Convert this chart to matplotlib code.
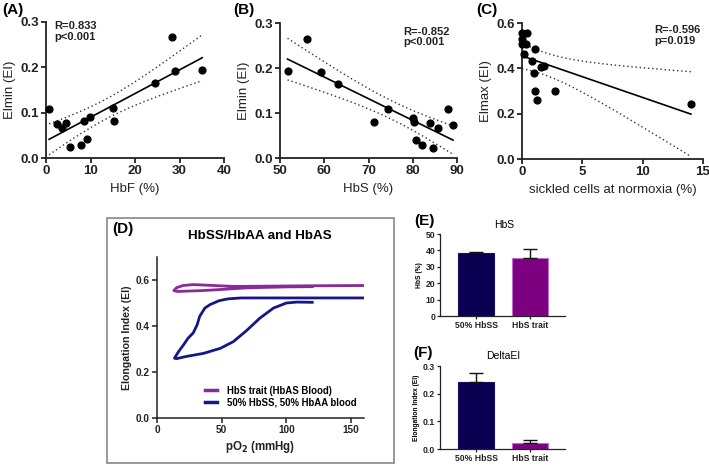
import numpy as np
import matplotlib
matplotlib.use("Agg")
import matplotlib.pyplot as plt
from matplotlib.patches import Rectangle
from matplotlib.lines import Line2D

plt.rcParams['font.family'] = ['Liberation Sans', 'DejaVu Sans']

# ---------------- data ----------------
hbf = [0.7, 2.5, 3.7, 4.5, 5.3, 7.8, 8.5, 9.3, 9.8, 15.1, 15.2, 24.4, 28.4, 28.9, 35.1]
eimin_a = [0.109, 0.076, 0.066, 0.078, 0.024, 0.029, 0.081, 0.042, 0.091, 0.111, 0.081, 0.165, 0.266, 0.192, 0.194]

hbs = [51.7, 56.2, 59.2, 63.2, 71.3, 74.4, 80.1, 80.2, 80.8, 82.0, 83.8, 84.6, 85.8, 88.0, 89.1]
eimin_b = [0.194, 0.265, 0.192, 0.164, 0.080, 0.109, 0.089, 0.079, 0.041, 0.028, 0.077, 0.023, 0.066, 0.108, 0.074]

sickled = [0.0, 0.41, 0.0, 0.03, 0.3, 0.14, 1.1, 0.86, 1.02, 1.08, 1.24, 1.6, 1.8, 2.73, 14.0]
eimax_c = [0.556, 0.556, 0.531, 0.509, 0.509, 0.465, 0.485, 0.432, 0.379, 0.300, 0.259, 0.405, 0.410, 0.300, 0.244]

# Panel D curves (pO2 mmHg, EI)
trait_po2 = [160, 120, 80, 60, 40, 28, 20, 15, 13, 16, 20, 35, 50, 70, 100, 120]
trait_ei = [0.576, 0.575, 0.573, 0.572, 0.577, 0.580, 0.576, 0.566, 0.554, 0.550, 0.551, 0.554, 0.559, 0.566, 0.570, 0.571]
mix_po2 = [160, 100, 65, 55, 48, 41, 37, 35, 33, 31, 28, 24, 20.5, 16.7, 13.5, 15, 23, 36, 49, 59, 69, 79.5, 90, 100, 108, 120]
mix_ei = [0.522, 0.522, 0.522, 0.518, 0.510, 0.493, 0.478, 0.460, 0.442, 0.405, 0.370, 0.347, 0.318, 0.289, 0.260, 0.258, 0.268, 0.281, 0.303, 0.332, 0.379, 0.434, 0.478, 0.500, 0.504, 0.503]

bar_cats = ["50% HbSS", "HbS trait"]
hbs_pct = [38.5, 35.6]
hbs_err = [0.3, 5.3]
delta_ei = [0.241, 0.020]
delta_err = [0.034, 0.013]

NAVY = "#0a0052"
PURPLE = "#7d0080"
LINE_BLUE = "#16168a"
LINE_PURPLE = "#8a2a96"

fig = plt.figure(figsize=(7.09, 4.65), dpi=100)

def style(ax, lw=1.3, ts=9.5):
    for s in ['top', 'right']:
        ax.spines[s].set_visible(False)
    for s in ['left', 'bottom']:
        ax.spines[s].set_linewidth(lw)
        ax.spines[s].set_color('#222222')
    ax.tick_params(direction='out', length=3.5, width=lw, labelsize=ts, colors='#222222', pad=1.5)
    for lab in ax.get_xticklabels() + ax.get_yticklabels():
        lab.set_fontweight('bold')

def regplot(ax, x, y):
    x = np.asarray(x); y = np.asarray(y)
    n = len(x)
    b, a = np.polyfit(x, y, 1)
    xs = np.linspace(x.min(), x.max(), 100)
    yh = a + b * xs
    resid = y - (a + b * x)
    s = np.sqrt(np.sum(resid ** 2) / (n - 2))
    sxx = np.sum((x - x.mean()) ** 2)
    t = 2.160
    ci = t * s * np.sqrt(1.0 / n + (xs - x.mean()) ** 2 / sxx)
    ax.plot(xs, yh, color='black', lw=1.2)
    ax.plot(xs, yh + ci, color='#333333', lw=1.0, ls=(0, (1, 2)))
    ax.plot(xs, yh - ci, color='#333333', lw=1.0, ls=(0, (1, 2)))
    ax.scatter(x, y, s=24, color='black', zorder=3, clip_on=False)

def px(l, t, r, b):
    W, H = 709, 465
    return [l / W, 1 - b / H, (r - l) / W, (b - t) / H]

LBL = 9.5
ANN = 8

# ---------- A ----------
axA = fig.add_axes(px(46, 22, 224, 158))
regplot(axA, hbf, eimin_a)
axA.set_xlim(0, 40); axA.set_ylim(0, 0.3)
axA.set_xticks([0, 10, 20, 30, 40]); axA.set_yticks([0.0, 0.1, 0.2, 0.3])
axA.set_yticklabels(['0.0', '0.1', '0.2', '0.3'])
axA.set_xlabel('HbF (%)', fontsize=LBL, color='#222222', labelpad=4)
axA.set_ylabel('Elmin (EI)', fontsize=LBL, color='#222222', labelpad=3)
axA.text(1.8, 0.302, 'R=0.833\np<0.001', fontsize=ANN, fontweight='semibold', va='top', color='#222222', linespacing=1.1)
style(axA)
fig.text(2 / 709, 1 - 10 / 465, '(A)', fontsize=11, fontweight='bold', va='center')

# ---------- B ----------
axB = fig.add_axes(px(280, 23, 457, 158))
regplot(axB, hbs, eimin_b)
axB.set_xlim(50, 90); axB.set_ylim(0, 0.3)
axB.set_xticks([50, 60, 70, 80, 90]); axB.set_yticks([0.0, 0.1, 0.2, 0.3])
axB.set_yticklabels(['0.0', '0.1', '0.2', '0.3'])
axB.set_xlabel('HbS (%)', fontsize=LBL, color='#222222', labelpad=4)
axB.set_ylabel('Elmin (EI)', fontsize=LBL, color='#222222', labelpad=3)
axB.text(77.8, 0.292, 'R=-0.852\np<0.001', fontsize=ANN, fontweight='semibold', va='top', color='#222222', linespacing=1.1)
style(axB)
fig.text(233 / 709, 1 - 10 / 465, '(B)', fontsize=11, fontweight='bold', va='center')

# ---------- C ----------
axC = fig.add_axes(px(522, 23, 703, 159))
regplot(axC, sickled, eimax_c)
axC.set_xlim(0, 15); axC.set_ylim(0, 0.6)
axC.set_xticks([0, 5, 10, 15]); axC.set_yticks([0.0, 0.2, 0.4, 0.6])
axC.set_yticklabels(['0.0', '0.2', '0.4', '0.6'])
axC.set_xlabel('sickled cells at normoxia (%)', fontsize=LBL, color='#222222', labelpad=4)
axC.set_ylabel('Elmax (EI)', fontsize=LBL, color='#222222', labelpad=3)
axC.text(11.0, 0.59, 'R=-0.596\np=0.019', fontsize=ANN, fontweight='semibold', va='top', color='#222222', linespacing=1.1)
style(axC)
fig.text(476 / 709, 1 - 10 / 465, '(C)', fontsize=11, fontweight='bold', va='center')

# ---------- D ----------
fig.patches.append(Rectangle((107 / 709, 1 - 463 / 465), (394 - 107) / 709, (463 - 218) / 465,
                             transform=fig.transFigure, fill=False, edgecolor='#888888', lw=1.2))
axD = fig.add_axes(px(157, 257, 364, 418))
axD.plot(trait_po2, trait_ei, color=LINE_PURPLE, lw=2.0, solid_joinstyle='round')
axD.plot(mix_po2, mix_ei, color=LINE_BLUE, lw=2.0, solid_joinstyle='round')
axD.set_xlim(0, 160); axD.set_ylim(0, 0.7)
axD.set_xticks([0, 50, 100, 150]); axD.set_yticks([0.0, 0.2, 0.4, 0.6])
axD.set_yticklabels(['0.0', '0.2', '0.4', '0.6'])
axD.set_xlabel('pO$_\\mathbf{2}$ (mmHg)', fontsize=8.3, fontweight='bold', color='#222222', labelpad=3)
axD.set_ylabel('Elongation Index (EI)', fontsize=7.6, fontweight='bold', color='#222222', labelpad=3)
style(axD, lw=1.1, ts=7.2)
handles = [Line2D([], [], color=LINE_PURPLE, lw=2.5), Line2D([], [], color=LINE_BLUE, lw=2.5)]
axD.legend(handles, ['HbS trait (HbAS Blood)', '50% HbSS, 50% HbAA blood'], loc='lower right',
           bbox_to_anchor=(0.99, 0.03), frameon=False, prop={'size': 6.9, 'weight': 'bold'},
           handlelength=1.3, handletextpad=1.0, labelspacing=0.2, borderaxespad=0.2)
fig.text(112 / 709, 1 - 229 / 465, '(D)', fontsize=11, fontweight='bold', va='center')
fig.text(260 / 709, 1 - 236 / 465, 'HbSS/HbAA and HbAS', fontsize=9.6, fontweight='bold', va='center', ha='center')

# ---------- E ----------
axE = fig.add_axes(px(440, 234, 565, 316))
xpos = np.arange(len(bar_cats))
axE.bar(xpos, hbs_pct, width=0.67, color=[NAVY, PURPLE], edgecolor=['#1a1060', '#c070c8'], lw=0.8)
axE.errorbar(xpos, hbs_pct, yerr=[[0, 0], hbs_err], fmt='none', ecolor='#111111', capsize=5, elinewidth=1.0, capthick=1.0)
axE.set_xlim(-0.673, 1.66); axE.set_ylim(0, 50)
axE.set_xticks(xpos); axE.set_xticklabels(bar_cats)
axE.set_yticks([0, 10, 20, 30, 40, 50])
axE.set_ylabel('HbS (%)', fontsize=4.8, fontweight='bold', labelpad=2)
style(axE, lw=0.9, ts=6.2)
axE.tick_params(length=2.5, pad=1)
fig.text(414 / 709, 1 - 221 / 465, '(E)', fontsize=11, fontweight='bold', va='center')
fig.text(504 / 709, 1 - 225 / 465, 'HbS', fontsize=7.5, va='center', ha='center')

# ---------- F ----------
axF = fig.add_axes(px(440, 366, 565, 449))
axF.bar(xpos, delta_ei, width=0.67, color=[NAVY, PURPLE], edgecolor=['#1a1060', '#c070c8'], lw=0.8)
axF.errorbar(xpos, delta_ei, yerr=[[0, 0], delta_err], fmt='none', ecolor='#111111', capsize=5, elinewidth=1.0, capthick=1.0)
axF.set_xlim(-0.673, 1.66); axF.set_ylim(0, 0.3)
axF.set_xticks(xpos); axF.set_xticklabels(bar_cats)
axF.set_yticks([0.0, 0.1, 0.2, 0.3])
axF.set_yticklabels(['0.0', '0.1', '0.2', '0.3'])
axF.set_ylabel('Elongation Index (EI)', fontsize=4.8, fontweight='bold', labelpad=2)
style(axF, lw=0.9, ts=6.2)
axF.tick_params(length=2.5, pad=1)
fig.text(413 / 709, 1 - 353 / 465, '(F)', fontsize=11, fontweight='bold', va='center')
fig.text(503 / 709, 1 - 356 / 465, 'DeltaEI', fontsize=7.5, va='center', ha='center')

fig.savefig('out.png', dpi=100, facecolor='white')
